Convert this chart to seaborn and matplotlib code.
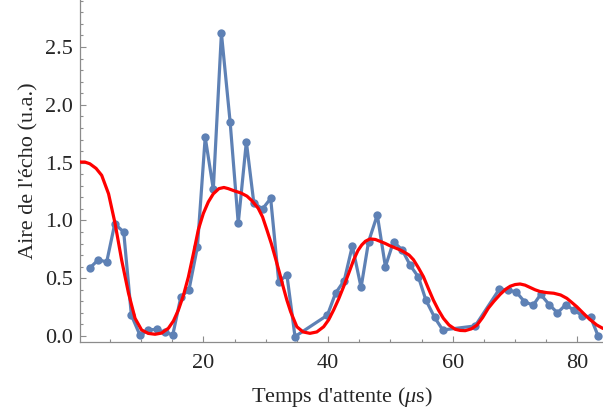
import numpy as np
import pandas as pd
import matplotlib
matplotlib.use("Agg")
import matplotlib.pyplot as plt
from matplotlib.ticker import MultipleLocator
import seaborn as sns

# measured echo area (blue points)
t_data = [1.83, 3.16, 4.5, 5.79, 7.23, 8.46, 9.85, 11.19, 12.5, 13.8, 15.1, 16.4, 17.7,
          19.05, 20.3, 21.6, 22.9, 24.3, 25.6, 26.9, 28.1, 29.5, 30.8, 32.1, 33.4, 34.7,
          39.9, 41.2, 42.6, 43.9, 45.3, 46.5, 47.9, 49.2, 50.5, 51.9, 53.2, 54.5, 55.7,
          57.1, 58.4, 63.6, 67.5, 68.9, 70.2, 71.5, 72.9, 74.1, 75.5, 76.8, 78.1, 79.4,
          80.8, 82.1, 83.3]
a_data = [0.59, 0.66, 0.64, 0.97, 0.90, 0.18, 0.005, 0.052, 0.058, 0.032, 0.01, 0.34, 0.40,
          0.77, 1.72, 1.27, 2.62, 1.85, 0.975, 1.68, 1.15, 1.10, 1.19, 0.467, 0.53, -0.005,
          0.18, 0.37, 0.48, 0.78, 0.42, 0.816, 1.047, 0.60, 0.816, 0.744, 0.61, 0.51, 0.31,
          0.16, 0.052, 0.087, 0.407, 0.398, 0.38, 0.297, 0.266, 0.36, 0.27, 0.20, 0.27, 0.225,
          0.176, 0.164, 0.003]

# fitted model curve (red)
t_fit = [0.22, 1.0, 1.8, 2.8, 3.7, 4.8, 5.84, 6.9, 8.0, 9.05, 10.1, 11.2, 12.26, 13.3, 14.4,
         15.2, 16.0, 16.8, 17.6, 18.4, 19.2, 20.0, 20.8, 21.6, 22.5, 23.3, 24.0, 25.0, 26.0,
         27.0, 27.8, 28.8, 29.5, 30.2, 30.9, 31.5, 32.2, 32.8, 33.4, 34.0, 35.0, 36.0, 37.1,
         38.2, 39.3, 40.1, 40.9, 41.7, 42.5, 43.3, 44.1, 44.8, 45.4, 46.0, 46.75, 47.6, 48.4,
         49.2, 50.0, 50.8, 51.6, 52.4, 53.0, 53.7, 54.5, 55.3, 56.1, 56.9, 57.7, 58.5, 59.4,
         60.4, 61.2, 62.0, 63.0, 63.9, 64.8, 65.7, 66.6, 67.6, 68.4, 69.2, 70.0, 70.8, 71.6,
         72.4, 73.2, 74.0, 75.1, 76.2, 77.3, 78.3, 79.1, 79.9, 80.7, 81.5, 82.3, 83.1, 84.1]
a_fit = [1.505, 1.505, 1.49, 1.45, 1.39, 1.23, 0.975, 0.657, 0.37, 0.153, 0.052, 0.022, 0.015,
         0.025, 0.067, 0.13, 0.225, 0.35, 0.51, 0.71, 0.92, 1.06, 1.16, 1.23, 1.275, 1.285,
         1.275, 1.255, 1.238, 1.21, 1.17, 1.105, 1.03, 0.917, 0.80, 0.686, 0.55, 0.427, 0.31,
         0.21, 0.08, 0.035, 0.023, 0.035, 0.08, 0.14, 0.225, 0.32, 0.427, 0.54, 0.657, 0.74,
         0.787, 0.82, 0.84, 0.835, 0.818, 0.80, 0.779, 0.762, 0.744, 0.72, 0.70, 0.66, 0.59,
         0.513, 0.41, 0.31, 0.225, 0.153, 0.095, 0.058, 0.048, 0.046, 0.062, 0.095, 0.16, 0.24,
         0.30, 0.36, 0.40, 0.43, 0.445, 0.45, 0.44, 0.42, 0.40, 0.385, 0.375, 0.37, 0.355,
         0.326, 0.29, 0.253, 0.21, 0.167, 0.13, 0.095, 0.065]

x_label = "Temps d'attente ($\\mu$s)"
y_label = "Aire de l'écho (u.a.)"

df_data = pd.DataFrame({"t": t_data, "a": a_data})
df_fit = pd.DataFrame({"t": t_fit, "a": a_fit})

sns.set_style("ticks")
plt.rcParams["font.family"] = ["Liberation Serif", "DejaVu Serif"]
plt.rcParams["mathtext.fontset"] = "custom"
plt.rcParams["mathtext.it"] = "Liberation Serif:italic"
plt.rcParams["mathtext.rm"] = "Liberation Serif"

fig = plt.figure(figsize=(6.03, 4.12), dpi=100)
ax = fig.add_axes([80 / 603, 70 / 412, 523 / 603, 342 / 412])

blue = "#5E81B5"
sns.lineplot(data=df_data, x="t", y="a", ax=ax, color=blue, linewidth=2.3,
             marker="o", markersize=6, markeredgewidth=0, sort=False, zorder=2)
sns.lineplot(data=df_fit, x="t", y="a", ax=ax, color="#FF0000", linewidth=2.3,
             sort=False, zorder=3)

ax.set_xlim(0.22, 84.1)
ax.set_ylim(-0.052, 2.907)

ax.xaxis.set_major_locator(MultipleLocator(20))
ax.xaxis.set_minor_locator(MultipleLocator(5))
ax.yaxis.set_major_locator(MultipleLocator(0.5))
ax.yaxis.set_minor_locator(MultipleLocator(0.1))
ax.yaxis.set_major_formatter(matplotlib.ticker.FormatStrFormatter("%.1f"))

for s in ["top", "right"]:
    ax.spines[s].set_visible(False)
for s in ["left", "bottom"]:
    ax.spines[s].set_color("#8c8c8c")
    ax.spines[s].set_linewidth(0.9)

ax.tick_params(axis="both", which="both", direction="in", color="#8c8c8c", width=0.8)
ax.tick_params(axis="both", which="major", length=4, labelsize=16)
ax.tick_params(axis="both", which="minor", length=2.3)
ax.tick_params(axis="x", which="major", pad=9)
ax.tick_params(axis="y", which="major", pad=5)

ax.set_xlabel(x_label, fontsize=16, labelpad=8)
ax.set_ylabel(y_label, fontsize=16, labelpad=5)

fig.savefig("out.png", dpi=100)
